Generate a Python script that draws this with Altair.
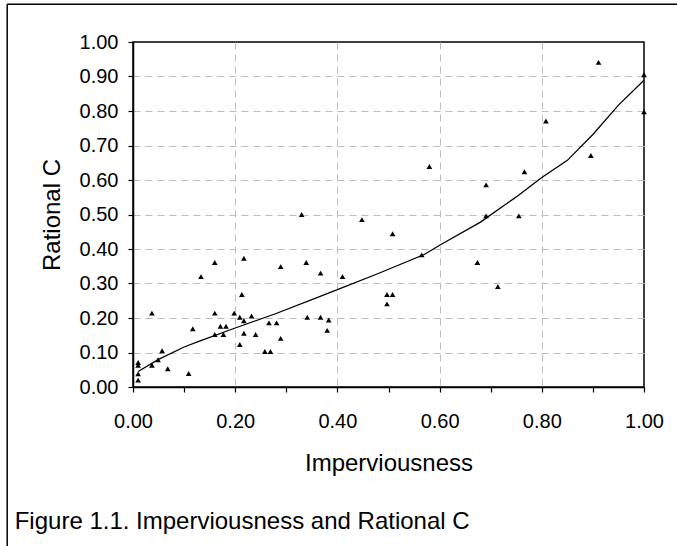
import altair as alt
import pandas as pd

# Observed data points (Imperviousness, Rational C)
imperv = [0.010, 0.010, 0.010, 0.010, 0.037, 0.037, 0.049, 0.057, 0.068, 0.109,
          0.117, 0.133, 0.160, 0.160, 0.160, 0.171, 0.177, 0.182, 0.198, 0.209,
          0.209, 0.213, 0.217, 0.217, 0.217, 0.232, 0.240, 0.258, 0.269, 0.266,
          0.281, 0.289, 0.289, 0.330, 0.339, 0.341, 0.367, 0.367, 0.380, 0.383,
          0.410, 0.448, 0.497, 0.497, 0.508, 0.508, 0.565, 0.580, 0.674, 0.691,
          0.691, 0.714, 0.755, 0.766, 0.808, 0.896, 0.911, 1.000, 1.000]
ratc = [0.071, 0.063, 0.038, 0.020, 0.214, 0.063, 0.079, 0.105, 0.053, 0.039,
        0.169, 0.320, 0.361, 0.214, 0.152, 0.176, 0.152, 0.176, 0.214, 0.202,
        0.123, 0.268, 0.373, 0.192, 0.156, 0.206, 0.152, 0.103, 0.103, 0.186,
        0.186, 0.349, 0.141, 0.500, 0.361, 0.202, 0.202, 0.330, 0.164, 0.194,
        0.320, 0.485, 0.268, 0.241, 0.268, 0.444, 0.383, 0.639, 0.361, 0.586,
        0.496, 0.291, 0.496, 0.624, 0.771, 0.671, 0.941, 0.905, 0.798]

# Fitted trend curve
fit_x = [0.01, 0.05, 0.10, 0.13, 0.20, 0.28, 0.35, 0.40, 0.48, 0.57, 0.60,
         0.68, 0.75, 0.80, 0.85, 0.90, 0.95, 1.00]
fit_y = [0.045, 0.080, 0.116, 0.133, 0.171, 0.213, 0.253, 0.282, 0.329, 0.384,
         0.411, 0.478, 0.551, 0.607, 0.657, 0.732, 0.817, 0.889]

tick_vals = [0.0, 0.1, 0.2, 0.3, 0.4, 0.5, 0.6, 0.7, 0.8, 0.9, 1.0]
caption = "Figure 1.1. Imperviousness and Rational C"
x_title = "Imperviousness"
y_title = "Rational C"

FONT = "Liberation Sans"

pts = pd.DataFrame({"x": imperv, "y": ratc})
fit = pd.DataFrame({"x": fit_x, "y": fit_y})

xscale = alt.Scale(domain=[0, 1], nice=False, zero=False)
yscale = alt.Scale(domain=[0, 1], nice=False, zero=False)

even = "round(datum.value*10) % 2 == 0"

x_axis = alt.Axis(
    values=tick_vals,
    labelExpr=f"{even} ? format(datum.value, '.2f') : ''",
    title=x_title, titleFont=FONT, titleFontSize=24, titleFontWeight="normal",
    titleColor="black", titleY=83, titleBaseline="alphabetic",
    labelFont=FONT, labelFontSize=20, labelColor="black", labelPadding=19,
    labelFlush=False, labelOverlap=False,
    tickSize=5, tickColor="black", tickWidth=1.2,
    domainColor="black", domainWidth=1.5,
    grid=True, gridColor="#bdbdbd", gridDash=[7, 5], gridWidth=1,
    gridOpacity={"condition": {"test": f"{even} && datum.value > 0.01 && datum.value < 0.99", "value": 1}, "value": 0},
)
y_axis = alt.Axis(
    values=tick_vals, labelExpr="format(datum.value, '.2f')",
    title=y_title, titleFont=FONT, titleFontSize=24, titleFontWeight="normal",
    titleColor="black", titleX=-74, titleY=172.5, titleAngle=270,
    titleAlign="center", titleBaseline="alphabetic",
    labelFont=FONT, labelFontSize=20, labelColor="black", labelPadding=10,
    labelFlush=False, labelOverlap=False,
    tickSize=5, tickColor="black", tickWidth=1.2,
    domainColor="black", domainWidth=1.5,
    grid=True, gridColor="#bdbdbd", gridDash=[7, 5], gridWidth=1,
    gridOpacity={"condition": {"test": "datum.value > 0.01 && datum.value < 0.99", "value": 1}, "value": 0},
)

x_enc = alt.X("x:Q", scale=xscale, axis=x_axis)
y_enc = alt.Y("y:Q", scale=yscale, axis=y_axis)

line = alt.Chart(fit).mark_line(color="black", strokeWidth=1.3).encode(
    x=x_enc, y=y_enc,
)

points = alt.Chart(pts).mark_point(
    shape="triangle-up", filled=True, color="black", size=32, opacity=1
).encode(x=x_enc, y=y_enc)

cap = alt.Chart(pd.DataFrame({"t": [caption]})).mark_text(
    font=FONT, fontSize=24, color="black", align="left", baseline="alphabetic"
).encode(x=alt.value(-118.3), y=alt.value(486.6), text="t:N")

frame_left = alt.Chart(pd.DataFrame({"a": [0]})).mark_rule(
    color="black", strokeWidth=1.5
).encode(x=alt.value(-125.8), y=alt.value(-37.7), y2=alt.value(505))

frame_top = alt.Chart(pd.DataFrame({"a": [0]})).mark_rule(
    color="black", strokeWidth=1.5
).encode(x=alt.value(-125.8), x2=alt.value(544), y=alt.value(-37.7))

chart = alt.layer(line, points, cap, frame_left, frame_top).properties(
    width=511, height=345,
    autosize=alt.AutoSizeParams(type="none"),
    padding={"left": 133, "top": 42, "right": 33, "bottom": 159},
    background="white",
).configure_view(stroke="black", strokeWidth=1.5)

chart.save("out.html", embed_options={"renderer": "svg", "actions": False})
